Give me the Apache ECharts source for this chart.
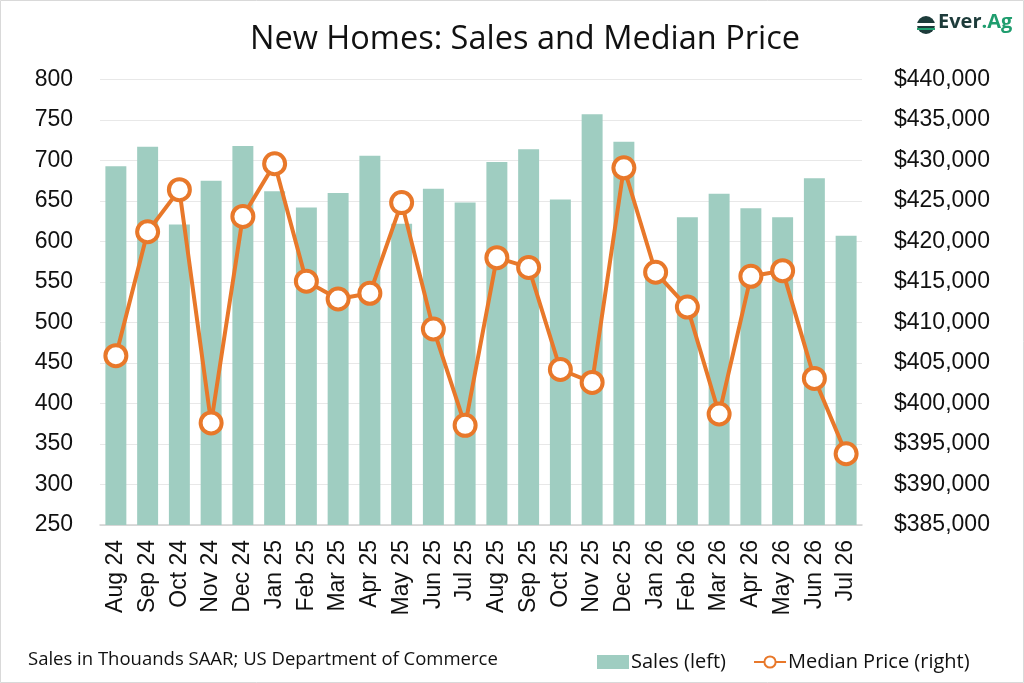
<!DOCTYPE html>
<html>
<head>
<meta charset="utf-8">
<script src="https://cdn.jsdelivr.net/npm/echarts@6/dist/echarts.min.js"></script>
<style>
  html, body { margin: 0; padding: 0; background: #fff; }
  #main { width: 1024px; height: 683px; }
</style>
</head>
<body>
<div id="main"></div>
<script>
const months = ["Aug 24", "Sep 24", "Oct 24", "Nov 24", "Dec 24", "Jan 25", "Feb 25", "Mar 25",
  "Apr 25", "May 25", "Jun 25", "Jul 25", "Aug 25", "Sep 25", "Oct 25", "Nov 25", "Dec 25",
  "Jan 26", "Feb 26", "Mar 26", "Apr 26", "May 26", "Jun 26", "Jul 26"];

// thousands, SAAR
const sales = [693, 717, 621, 675, 718, 662, 642, 660, 706, 622, 665, 648,
  698, 714, 652, 757, 723, 562, 630, 659, 641, 630, 678, 607];

// dollars
const medianPrice = [405900, 421200, 426400, 397600, 423100, 429600, 415100, 412900,
  413600, 424800, 409200, 397300, 418000, 416800, 404200, 402600, 429100, 416200,
  411900, 398700, 415700, 416400, 403100, 393800];

const FONT = "Open Sans";
const AXIS_FONT = "Liberation Sans";
const GREEN = "#9fcdc1";
const ORANGE = "#e8782a";

window.onload = function () {
  const myChart = echarts.init(document.getElementById("main"));

  const money = v => "$" + v.toLocaleString("en-US");

  const options = {
    backgroundColor: "#fff",
    textStyle: { fontFamily: FONT },
    title: {
      text: "New Homes: Sales and Median Price",
      left: 520,
      textAlign: "center",
      top: 18,
      textStyle: { fontFamily: FONT, fontSize: 32.5, fontWeight: "normal", color: "#111" }
    },
    graphic: [
      {
        type: "rect",
        shape: { x: 0.5, y: 0.5, width: 1023, height: 682 },
        style: { fill: "none", stroke: "#d9d9d9", lineWidth: 1 },
        silent: true
      },
      {
        type: "circle",
        shape: { cx: 926, cy: 25, r: 9 },
        style: { fill: "#1d3b3a" }
      },
      {
        type: "rect",
        shape: { x: 917, y: 23, width: 18, height: 3 },
        style: { fill: "#fff" }
      },
      {
        type: "rect",
        shape: { x: 917, y: 28, width: 18, height: 2 },
        style: { fill: "#20a070" }
      },
      {
        type: "text",
        left: 938,
        top: 12,
        style: {
          text: "{a|Ever}{b|.Ag}",
          rich: {
            a: { fontFamily: FONT, fontSize: 20, fontWeight: "bold", fill: "#1d3b3a" },
            b: { fontFamily: FONT, fontSize: 20, fontWeight: "bold", fill: "#1f9d6e" }
          }
        }
      },
      {
        type: "text",
        left: 28,
        top: 650,
        style: {
          text: "Sales in Thouands SAAR; US Department of Commerce",
          fontFamily: FONT, fontSize: 18.5, fill: "#111"
        }
      }
    ],
    legend: {
      left: 592,
      top: 647,
      itemGap: 27,
      itemWidth: 32,
      itemHeight: 14,
      textStyle: { fontFamily: FONT, fontSize: 20, color: "#111", padding: [0, 0, 0, -3] },
      data: [
        { name: "Sales (left)", icon: "rect" },
        { name: "Median Price (right)" }
      ]
    },
    grid: { left: 100, right: 162, top: 79.5, bottom: 158 },
    xAxis: {
      type: "category",
      data: months,
      axisTick: { show: false },
      axisLine: { lineStyle: { color: "#d0d0d0", width: 1.5 } },
      axisLabel: {
        rotate: 90,
        fontFamily: AXIS_FONT,
        fontSize: 23,
        color: "#111",
        margin: 15
      }
    },
    yAxis: [
      {
        type: "value",
        min: 250,
        max: 800,
        interval: 50,
        axisLine: { show: false },
        axisTick: { show: false },
        splitLine: { lineStyle: { color: "#e8e8e8", width: 1 } },
        axisLabel: { fontFamily: AXIS_FONT, fontSize: 23, color: "#111", margin: 27 }
      },
      {
        type: "value",
        min: 385000,
        max: 440000,
        interval: 5000,
        axisLine: { show: false },
        axisTick: { show: false },
        splitLine: { show: false },
        axisLabel: { fontFamily: AXIS_FONT, fontSize: 23, color: "#111", margin: 32, formatter: money }
      }
    ],
    series: [
      {
        name: "Sales (left)",
        type: "bar",
        data: sales,
        barWidth: "66%",
        itemStyle: { color: GREEN },
        yAxisIndex: 0
      },
      {
        name: "Median Price (right)",
        type: "line",
        data: medianPrice,
        yAxisIndex: 1,
        symbol: "circle",
        symbolSize: 21,
        lineStyle: { color: ORANGE, width: 4 },
        itemStyle: { color: "#fff", borderColor: ORANGE, borderWidth: 4 },
        z: 5
      }
    ]
  };

  myChart.setOption(options);
};
</script>
</body>
</html>
